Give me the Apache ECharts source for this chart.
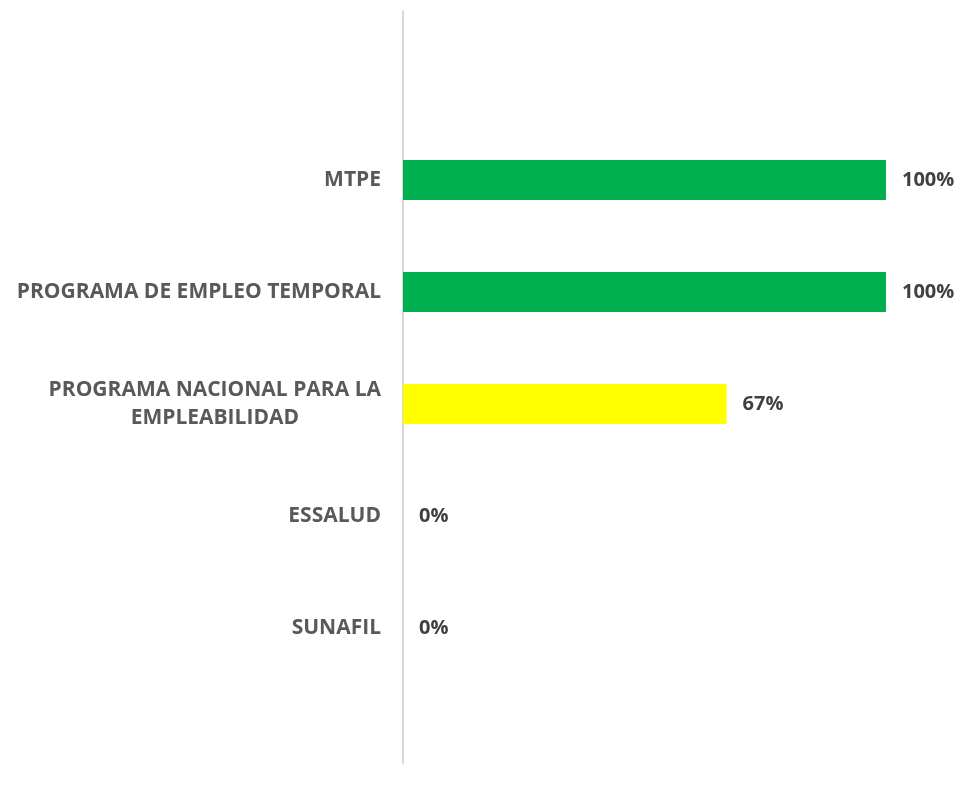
<!DOCTYPE html>
<html>
<head>
<meta charset="utf-8">
<script src="https://cdn.jsdelivr.net/npm/echarts@6/dist/echarts.min.js"></script>
<style>
  html, body { margin: 0; padding: 0; background: #fff; }
  #chart { width: 960px; height: 790px; }
</style>
</head>
<body>
<div id="chart"></div>
<script>
// datos del gráfico
const categorias = ['MTPE', 'PROGRAMA DE EMPLEO TEMPORAL', 'PROGRAMA NACIONAL PARA LA\nEMPLEABILIDAD', 'ESSALUD', 'SUNAFIL'];
const porcentajes = [100, 100, 67, 0, 0];
const colores = ['#00B050', '#00B050', '#FFFF00', '#00B050', '#00B050'];

const FONT = '"Open Sans", "Liberation Sans", sans-serif';

let chart = echarts.init(document.getElementById('chart'));

let option = {
    animation: false,
    grid: [
        { left: 403, right: 74, top: 124, height: 560 },
        // solo para la línea vertical del eje
        { left: 403, width: 1, top: 11, height: 752 }
    ],
    xAxis: [
        { gridIndex: 0, type: 'value', min: 0, max: 100, show: false },
        { gridIndex: 1, type: 'value', min: 0, max: 1, show: false }
    ],
    yAxis: [
        {
            gridIndex: 0,
            type: 'category',
            inverse: true,
            data: categorias,
            axisLine: { show: false },
            axisTick: { show: false },
            splitLine: { show: false },
            axisLabel: {
                margin: 22,
                fontFamily: FONT,
                fontWeight: 'bold',
                fontSize: 21,
                color: '#595959',
                formatter: function (v) {
                    if (v.indexOf('\n') < 0) return v;
                    return v.split('\n').map(function (s) { return '{c|' + s + '}'; }).join('\n');
                },
                rich: {
                    c: {
                        align: 'center',
                        fontFamily: FONT,
                        fontWeight: 'bold',
                        fontSize: 21,
                        color: '#595959',
                        lineHeight: 28
                    }
                }
            }
        },
        {
            gridIndex: 1,
            type: 'category',
            data: [''],
            axisLine: { show: true, lineStyle: { color: '#d9d9d9', width: 2 } },
            axisTick: { show: false },
            axisLabel: { show: false },
            splitLine: { show: false }
        }
    ],
    series: [
        {
            type: 'bar',
            xAxisIndex: 0,
            yAxisIndex: 0,
            barWidth: 40,
            data: porcentajes.map(function (v, i) {
                return { value: v, itemStyle: { color: colores[i] } };
            }),
            label: {
                show: true,
                position: 'right',
                distance: 16,
                formatter: '{c}%',
                fontFamily: FONT,
                fontWeight: 'bold',
                fontSize: 20,
                color: '#404040'
            }
        }
    ]
};

chart.setOption(option);
</script>
</body>
</html>
